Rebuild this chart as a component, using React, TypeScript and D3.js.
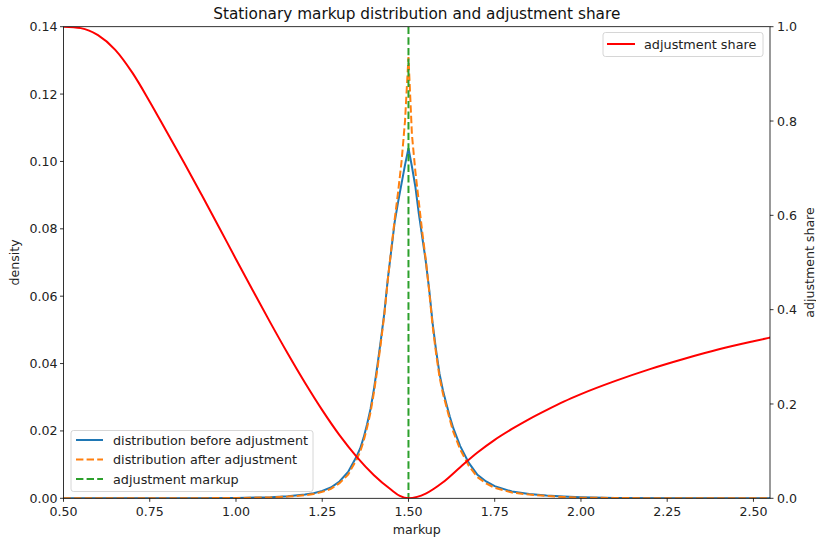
import React from "react";
import * as d3 from "d3";

// Markup grid for the stationary densities
const densityMarkup = [
  0.5, 0.6, 0.7, 0.8, 0.9, 1.0, 1.1, 1.15, 1.2, 1.225, 1.25, 1.275, 1.3, 1.325,
  1.35, 1.36, 1.37, 1.38, 1.39, 1.4, 1.41, 1.42, 1.43, 1.44, 1.45, 1.46, 1.47,
  1.48, 1.49, 1.5, 1.51, 1.52, 1.53, 1.54, 1.55, 1.56, 1.57, 1.58, 1.59, 1.6,
  1.61, 1.62, 1.63, 1.65, 1.675, 1.7, 1.725, 1.75, 1.8, 1.85, 1.9, 1.95, 2.0,
  2.1, 2.25, 2.4, 2.55,
];

// Density before the adjustment step
const densityBefore = [
  0, 0, 0, 0.00002, 0.00005, 0.0001, 0.0003, 0.0006, 0.0011, 0.0015, 0.0022,
  0.0032, 0.005, 0.0078, 0.0125, 0.0148, 0.018, 0.022, 0.0265, 0.0325, 0.0395,
  0.047, 0.055, 0.065, 0.0735, 0.082, 0.088, 0.0935, 0.099, 0.1039, 0.0985,
  0.0925, 0.0845, 0.0775, 0.0705, 0.062, 0.052, 0.044, 0.037, 0.032, 0.028,
  0.0242, 0.0208, 0.0155, 0.0105, 0.007, 0.005, 0.0036, 0.002, 0.0013, 0.0008,
  0.0005, 0.0003, 0.0001, 0.00003, 0.00001, 0,
];

// Density after the adjustment step
const densityAfter = [
  0, 0, 0, 0.00001, 0.00004, 0.00008, 0.00025, 0.0005, 0.0009, 0.0013, 0.0019,
  0.0028, 0.0045, 0.007, 0.0116, 0.0138, 0.017, 0.021, 0.0255, 0.0315, 0.0385,
  0.0462, 0.0545, 0.0648, 0.0738, 0.0828, 0.091, 0.1, 0.112, 0.131, 0.108,
  0.097, 0.088, 0.079, 0.071, 0.0615, 0.0512, 0.043, 0.036, 0.031, 0.0272,
  0.0233, 0.0197, 0.0145, 0.0096, 0.0063, 0.0044, 0.0031, 0.0017, 0.0011,
  0.0007, 0.0004, 0.0002, 0.00008, 0.00002, 0, 0,
];

// Share of firms adjusting, by markup
const shareMarkup = [
  0.5, 0.55, 0.6, 0.65, 0.7, 0.75, 0.8, 0.85, 0.9, 0.95, 1.0, 1.05, 1.1, 1.15,
  1.2, 1.25, 1.3, 1.35, 1.4, 1.45, 1.475, 1.5, 1.525, 1.55, 1.6, 1.65, 1.7,
  1.75, 1.8, 1.85, 1.9, 1.95, 2.0, 2.1, 2.2, 2.3, 2.4, 2.5, 2.55,
];
const adjustmentShare = [
  1.0, 0.997, 0.982, 0.951, 0.902, 0.841, 0.776, 0.711, 0.644, 0.576, 0.507,
  0.439, 0.372, 0.307, 0.245, 0.187, 0.134, 0.088, 0.049, 0.018, 0.005, 0.0,
  0.003, 0.01, 0.034, 0.066, 0.097, 0.124, 0.147, 0.168, 0.187, 0.205, 0.221,
  0.249, 0.274, 0.296, 0.316, 0.333, 0.341,
];

const adjustmentMarkup = 1.5;

const xTicks = [0.5, 0.75, 1.0, 1.25, 1.5, 1.75, 2.0, 2.25, 2.5];
const yTicks = [0, 0.02, 0.04, 0.06, 0.08, 0.1, 0.12, 0.14];
const y2Ticks = [0, 0.2, 0.4, 0.6, 0.8, 1.0];

const W = 816;
const H = 538;
const M = { left: 63.5, right: 770, top: 26.7, bottom: 498.3 };
const FONT = "DejaVu Sans, sans-serif";

const C_BLUE = "#1f77b4";
const C_ORANGE = "#ff7f0e";
const C_GREEN = "#2ca02c";
const C_RED = "#ff0000";

export default function App() {
  const x = d3.scaleLinear().domain([0.5, 2.548]).range([M.left, M.right]);
  const y = d3.scaleLinear().domain([0, 0.14]).range([M.bottom, M.top]);
  const y2 = d3.scaleLinear().domain([0, 1]).range([M.bottom, M.top]);

  const densityLine = (vals: number[]) =>
    d3
      .line<number>()
      .x((_, i) => x(densityMarkup[i]))
      .y((d) => y(d))
      .curve(d3.curveLinear)(vals) || "";

  const shareLine =
    d3
      .line<number>()
      .x((_, i) => x(shareMarkup[i]))
      .y((d) => y2(d))
      .curve(d3.curveMonotoneX)(adjustmentShare) || "";

  const tickFs = 12.6;
  const legendFs = 12.8;

  const lowerLegend = [
    { label: "distribution before adjustment", color: C_BLUE, dash: "" },
    { label: "distribution after adjustment", color: C_ORANGE, dash: "7.4,3.2" },
    { label: "adjustment markup", color: C_GREEN, dash: "7.4,3.2" },
  ];

  return (
    <div style={{ position: "absolute", left: 0, top: 0 }}>
      <svg width={W} height={H} style={{ display: "block", background: "#fff" }}>
        <defs>
          <clipPath id="plotArea">
            <rect x={M.left} y={M.top} width={M.right - M.left} height={M.bottom - M.top} />
          </clipPath>
        </defs>

        {/* series */}
        <g clipPath="url(#plotArea)" fill="none" strokeWidth={2}>
          <path d={densityLine(densityBefore)} stroke={C_BLUE} />
          <path d={densityLine(densityAfter)} stroke={C_ORANGE} strokeDasharray="7.4,3.2" />
          <line
            x1={x(adjustmentMarkup)}
            x2={x(adjustmentMarkup)}
            y1={M.top}
            y2={M.bottom}
            stroke={C_GREEN}
            strokeDasharray="7.4,3.2"
          />
          <path d={shareLine} stroke={C_RED} />
        </g>

        {/* frame */}
        <rect
          x={M.left}
          y={M.top}
          width={M.right - M.left}
          height={M.bottom - M.top}
          fill="none"
          stroke="#000"
          strokeWidth={0.8}
        />

        {/* bottom axis */}
        {xTicks.map((t) => (
          <g key={"x" + t}>
            <line x1={x(t)} x2={x(t)} y1={M.bottom} y2={M.bottom + 3.5} stroke="#000" strokeWidth={0.8} />
            <text
              x={x(t)}
              y={M.bottom + 18}
              textAnchor="middle"
              fontFamily={FONT}
              fontSize={tickFs}
              fill="#222"
            >
              {t.toFixed(2)}
            </text>
          </g>
        ))}
        <text
          x={(M.left + M.right) / 2}
          y={534}
          textAnchor="middle"
          fontFamily={FONT}
          fontSize={tickFs}
          fill="#222"
        >
          markup
        </text>

        {/* left axis */}
        {yTicks.map((t) => (
          <g key={"y" + t}>
            <line x1={M.left - 3.5} x2={M.left} y1={y(t)} y2={y(t)} stroke="#000" strokeWidth={0.8} />
            <text
              x={M.left - 6}
              y={y(t)}
              dy="0.36em"
              textAnchor="end"
              fontFamily={FONT}
              fontSize={tickFs}
              fill="#222"
            >
              {t.toFixed(2)}
            </text>
          </g>
        ))}
        <text
          transform={`translate(19,${(M.top + M.bottom) / 2}) rotate(-90)`}
          textAnchor="middle"
          fontFamily={FONT}
          fontSize={tickFs}
          fill="#222"
        >
          density
        </text>

        {/* right axis */}
        {y2Ticks.map((t) => (
          <g key={"y2" + t}>
            <line x1={M.right} x2={M.right + 3.5} y1={y2(t)} y2={y2(t)} stroke="#000" strokeWidth={0.8} />
            <text
              x={M.right + 7}
              y={y2(t)}
              dy="0.36em"
              textAnchor="start"
              fontFamily={FONT}
              fontSize={tickFs}
              fill="#222"
            >
              {t.toFixed(1)}
            </text>
          </g>
        ))}
        <text
          transform={`translate(814,${(M.top + M.bottom) / 2}) rotate(-90)`}
          textAnchor="middle"
          fontFamily={FONT}
          fontSize={tickFs}
          fill="#222"
        >
          adjustment share
        </text>

        {/* title */}
        <text
          x={(M.left + M.right) / 2}
          y={18.5}
          textAnchor="middle"
          fontFamily={FONT}
          fontSize={15.3}
          fill="#111"
        >
          Stationary markup distribution and adjustment share
        </text>

        {/* lower-left legend */}
        <g>
          <rect
            x={71}
            y={430.5}
            width={242}
            height={61}
            rx={2.5}
            fill="#fff"
            fillOpacity={0.8}
            stroke="#cccccc"
            strokeWidth={0.8}
          />
          {lowerLegend.map((e, i) => {
            const cy = 440 + i * 19.5;
            return (
              <g key={e.label}>
                <line
                  x1={76}
                  x2={103}
                  y1={cy}
                  y2={cy}
                  stroke={e.color}
                  strokeWidth={2}
                  strokeDasharray={e.dash || undefined}
                />
                <text
                  x={113}
                  y={cy}
                  dy="0.36em"
                  fontFamily={FONT}
                  fontSize={legendFs}
                  fill="#222"
                >
                  {e.label}
                </text>
              </g>
            );
          })}
        </g>

        {/* upper-right legend */}
        <g>
          <rect
            x={603}
            y={32.5}
            width={160}
            height={24}
            rx={2.5}
            fill="#fff"
            fillOpacity={0.8}
            stroke="#cccccc"
            strokeWidth={0.8}
          />
          <line x1={607} x2={635} y1={44} y2={44} stroke={C_RED} strokeWidth={2} />
          <text x={644} y={44} dy="0.36em" fontFamily={FONT} fontSize={legendFs} fill="#222">
            adjustment share
          </text>
        </g>
      </svg>
    </div>
  );
}
